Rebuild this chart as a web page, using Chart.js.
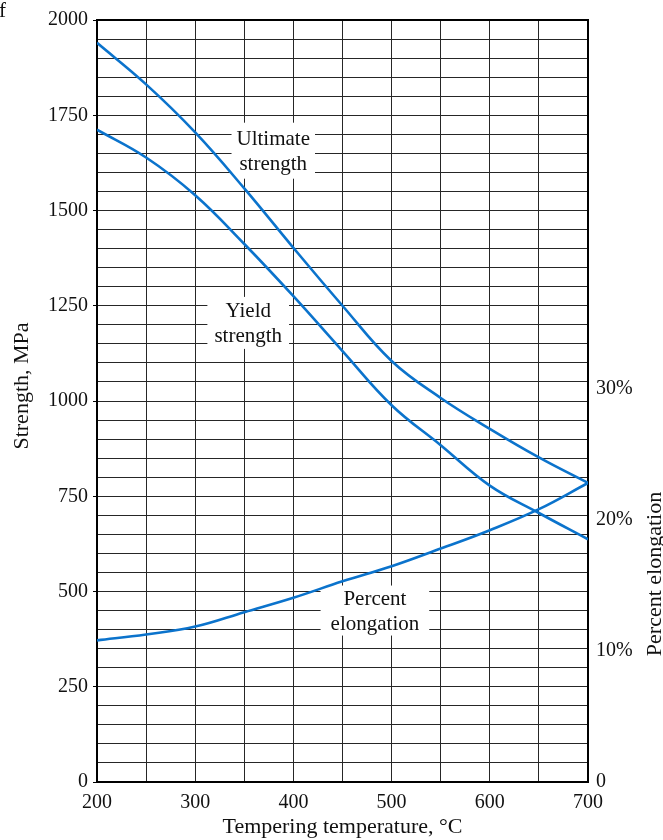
<!DOCTYPE html>
<html><head><meta charset="utf-8">
<script src="https://cdn.jsdelivr.net/npm/chart.js@4"></script>
<style>html,body{margin:0;padding:0;background:#fff}#wrap{width:663px;height:840px;position:relative}</style>
</head><body><div id="wrap"><canvas id="c" width="663" height="840"></canvas></div>
<script>
// ---- data ----
const temperatures = [200, 250, 300, 350, 400, 450, 500, 550, 600, 650, 700];
const ultimateStrength = [1940, 1831, 1705, 1558, 1402, 1250, 1105, 1008, 927, 852, 785];
const yieldStrength = [1712, 1639, 1540, 1412, 1275, 1131, 989, 884, 778, 706, 637];
const percentElongation = [10.8, 11.25, 11.85, 12.95, 14.05, 15.3, 16.45, 17.8, 19.2, 20.8, 22.8];
const xTickLabels = [200, 300, 400, 500, 600, 700];
const strengthTickLabels = [0, 250, 500, 750, 1000, 1250, 1500, 1750, 2000];
const elongationTickLabels = [0, 10, 20, 30];

const FONT = "'Liberation Serif', 'Times New Roman', serif";
const BLUE = '#0b73cc';
const GRID = '#262626';

const curveLabels = [
  {lines: ['Ultimate', 'strength'], x: 379.5, y: 1657, axis: 'y', padX: 5, padY: 3},
  {lines: ['Yield', 'strength'], x: 354, y: 1205, axis: 'y', padX: 7, padY: 1},
  {lines: ['Percent', 'elongation'], x: 483, y: 450, axis: 'y', padX: 10, padY: 0}
];

const toPts = (ys) => temperatures.map((t, i) => ({x: t, y: ys[i]}));

const overlay = {
  id: 'overlay',
  beforeDatasetsDraw(chart) {
    const {ctx, chartArea: a, scales} = chart;
    ctx.save();
    ctx.font = '21px ' + FONT;
    ctx.textAlign = 'center';
    ctx.textBaseline = 'middle';
    const lh = 25;
    curveLabels.forEach(l => {
      const cx = scales.x.getPixelForValue(l.x);
      const cy = scales[l.axis].getPixelForValue(l.y);
      const w = Math.max(...l.lines.map(s => ctx.measureText(s).width)) + 2 * l.padX;
      const h = l.lines.length * lh + 2 * l.padY;
      ctx.fillStyle = '#fff';
      ctx.fillRect(cx - w / 2, cy - h / 2, w, h);
      ctx.fillStyle = '#111';
      l.lines.forEach((s, i) => {
        ctx.fillText(s, cx, cy - h / 2 + l.padY + lh * (i + 0.5) + 1);
      });
    });
    // frame
    ctx.strokeStyle = '#000';
    ctx.lineWidth = 2;
    ctx.strokeRect(a.left, a.top, a.right - a.left, a.bottom - a.top);
    ctx.restore();
  },
  afterDraw(chart) {
    const {ctx, chartArea: a} = chart;
    ctx.save();
    ctx.fillStyle = '#111';
    ctx.font = '22px ' + FONT;
    ctx.textAlign = 'center';
    ctx.textBaseline = 'middle';
    ctx.fillText('Tempering temperature, \u00B0C', (a.left + a.right) / 2, 827);
    ctx.save();
    ctx.translate(22, 386);
    ctx.rotate(-Math.PI / 2);
    ctx.fillText('Strength, MPa', 0, 0);
    ctx.restore();
    ctx.save();
    ctx.translate(655, 574);
    ctx.rotate(-Math.PI / 2);
    ctx.fillText('Percent elongation', 0, 0);
    ctx.restore();
    ctx.font = '21px ' + FONT;
    ctx.textAlign = 'right';
    ctx.fillText('f', 6, 11);
    ctx.restore();
  }
};

new Chart(document.getElementById('c'), {
  type: 'line',
  data: {
    datasets: [
      {label: 'Ultimate strength', data: toPts(ultimateStrength), yAxisID: 'y'},
      {label: 'Yield strength', data: toPts(yieldStrength), yAxisID: 'y'},
      {label: 'Percent elongation', data: toPts(percentElongation), yAxisID: 'y2'}
    ].map(d => Object.assign(d, {
      borderColor: BLUE, borderWidth: 2.6, pointRadius: 0, fill: false,
      tension: 0.4
    }))
  },
  options: {
    responsive: false,
    animation: false,
    layout: {padding: {top: 17, left: 0, right: 0, bottom: 0}},
    plugins: {legend: {display: false}, tooltip: {enabled: false}},
    scales: {
      x: {
        type: 'linear', min: 200, max: 700,
        afterFit: s => { s.height = 58; },
        afterBuildTicks: s => { const t = []; for (let v = 200; v <= 700; v += 50) t.push({value: v}); s.ticks = t; },
        ticks: {
          autoSkip: false, maxRotation: 0, padding: 9, color: '#111',
          font: {family: FONT, size: 20},
          callback: v => xTickLabels.includes(v) ? String(v) : ''
        },
        grid: {color: GRID, lineWidth: 1, drawTicks: false},
        border: {display: false}
      },
      y: {
        position: 'left', min: 0, max: 2000,
        afterFit: s => { s.width = 97; },
        afterBuildTicks: s => { const t = []; for (let v = 0; v <= 2000; v += 50) t.push({value: v}); s.ticks = t; },
        ticks: {
          autoSkip: false, padding: 5, color: '#111',
          font: {family: FONT, size: 20},
          callback: v => strengthTickLabels.includes(v) ? String(v) : ''
        },
        grid: {
          color: GRID, lineWidth: 1, drawTicks: true, tickLength: 4,
          tickColor: c => (c.tick && strengthTickLabels.includes(c.tick.value)) ? '#000' : 'rgba(0,0,0,0)'
        },
        border: {display: false}
      },
      y2: {
        position: 'right', min: 0, max: 58.1,
        afterFit: s => { s.width = 75; },
        afterBuildTicks: s => { s.ticks = elongationTickLabels.map(v => ({value: v})); },
        ticks: {
          autoSkip: false, padding: 8, color: '#111',
          font: {family: FONT, size: 20},
          callback: v => v === 0 ? '0' : v + '%'
        },
        grid: {display: false, drawTicks: false},
        border: {display: false}
      }
    }
  },
  plugins: [overlay]
});
</script>
</body></html>
